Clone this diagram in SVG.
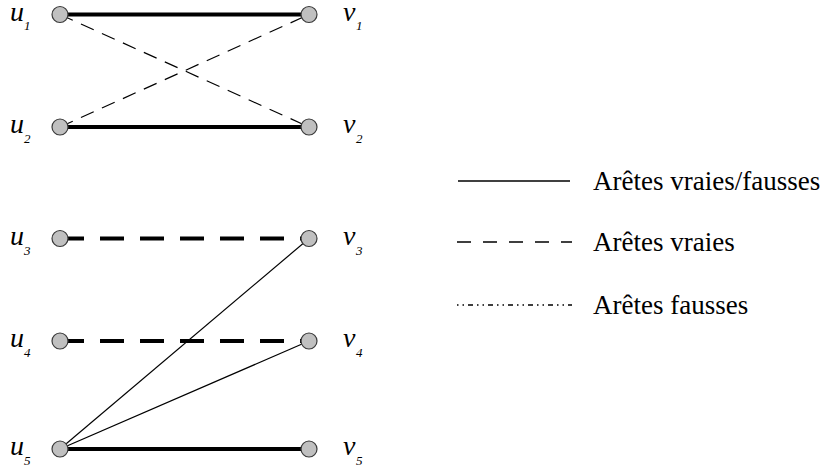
<svg xmlns="http://www.w3.org/2000/svg" width="827" height="468" viewBox="0 0 827 468">
<style>
.n{fill:#c0c0c0;stroke:#3a3a3a;stroke-width:1.2}
.lb{font-family:"Liberation Serif","Times New Roman",serif;font-style:italic;font-size:28px;fill:#000}
.sb{font-family:"Liberation Serif","Times New Roman",serif;font-style:italic;font-size:13px;fill:#000}
.lg{font-family:"Liberation Serif","Times New Roman",serif;font-size:27px;fill:#000}
.thick{stroke:#000;stroke-width:4;fill:none}
.thin{stroke:#000;stroke-width:1.2;fill:none}
.tdash{stroke:#000;stroke-width:4;fill:none;stroke-dasharray:24 16}
.ndash{stroke:#000;stroke-width:1.2;fill:none;stroke-dasharray:14 9}
</style>
<rect width="827" height="468" fill="#fff"/>
<g id="connectors">
<line class="thick" x1="60" y1="14.5" x2="309" y2="14.5"/>
<line class="thick" x1="60" y1="127" x2="309" y2="127"/>
<line class="ndash" x1="60" y1="14.5" x2="309" y2="127"/>
<line class="ndash" x1="60" y1="127" x2="309" y2="14.5"/>
<line class="tdash" x1="60" y1="238.5" x2="309" y2="238.5"/>
<line class="tdash" x1="60" y1="341" x2="309" y2="341"/>
<line class="thin" x1="60" y1="449" x2="309" y2="238.5"/>
<line class="thin" x1="60" y1="449" x2="309" y2="341"/>
<line class="thick" x1="60" y1="449" x2="309" y2="449"/>
</g>
<g id="u1"><circle class="n" cx="60" cy="14.5" r="8"/><text class="lb" x="10" y="20.5">u</text><text class="sb" x="24" y="30">1</text></g>
<g id="u2"><circle class="n" cx="60" cy="127" r="8"/><text class="lb" x="10" y="133">u</text><text class="sb" x="24" y="143">2</text></g>
<g id="u3"><circle class="n" cx="60" cy="238.5" r="8"/><text class="lb" x="10" y="244.5">u</text><text class="sb" x="24" y="254.5">3</text></g>
<g id="u4"><circle class="n" cx="60" cy="341" r="8"/><text class="lb" x="10" y="347">u</text><text class="sb" x="24" y="357">4</text></g>
<g id="u5"><circle class="n" cx="60" cy="449" r="8"/><text class="lb" x="10" y="455">u</text><text class="sb" x="24" y="465">5</text></g>
<g id="v1"><circle class="n" cx="309" cy="14.5" r="8"/><text class="lb" x="343" y="20.5">v</text><text class="sb" x="356" y="30">1</text></g>
<g id="v2"><circle class="n" cx="309" cy="127" r="8"/><text class="lb" x="343" y="133">v</text><text class="sb" x="356" y="143">2</text></g>
<g id="v3"><circle class="n" cx="309" cy="238.5" r="8"/><text class="lb" x="343" y="244.5">v</text><text class="sb" x="356" y="254.5">3</text></g>
<g id="v4"><circle class="n" cx="309" cy="341" r="8"/><text class="lb" x="343" y="347">v</text><text class="sb" x="356" y="357">4</text></g>
<g id="v5"><circle class="n" cx="309" cy="449" r="8"/><text class="lb" x="343" y="455">v</text><text class="sb" x="356" y="465">5</text></g>
<g id="legend">
<line x1="458" y1="181" x2="570" y2="181" stroke="#000" stroke-width="1.3"/>
<text class="lg" x="593" y="190">Arêtes vraies/fausses</text>
<line x1="457" y1="242" x2="572" y2="242" stroke="#000" stroke-width="1.6" stroke-dasharray="14 12"/>
<text class="lg" x="593" y="251">Arêtes vraies</text>
<line x1="457" y1="305" x2="572" y2="305" stroke="#000" stroke-width="1.3" stroke-dasharray="1.5 4 1.5 4 5 4"/>
<text class="lg" x="593" y="314">Arêtes fausses</text>
</g>
</svg>
